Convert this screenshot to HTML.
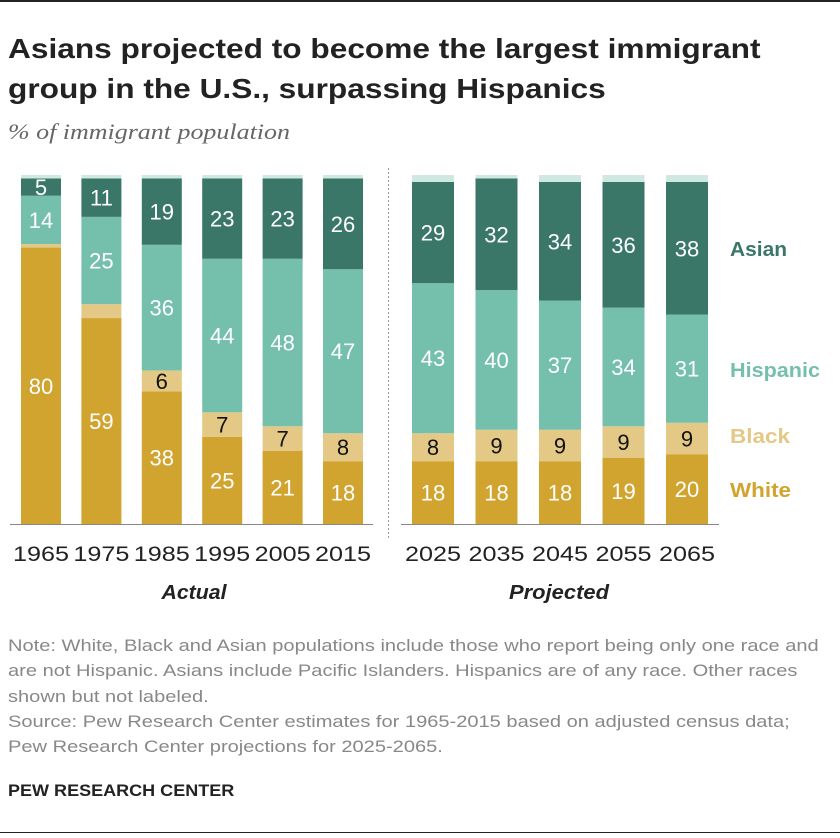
<!DOCTYPE html>
<html><head><meta charset="utf-8"><style>
body{margin:0;background:#fff;font-family:"Liberation Sans",sans-serif;}
#w{position:relative;width:840px;height:838px;overflow:hidden;}
.t{position:absolute;white-space:nowrap;transform-origin:0 0;}
</style></head><body>
<div id="w">
<div class="t" style="left:0;top:0;width:840px;height:2px;background:#222"></div>
<div class="t" style="left:8px;top:29px;font-size:28px;font-weight:bold;line-height:40px;color:#222;transform:scaleX(1.13)">Asians projected to become the largest immigrant<br>group in the U.S., surpassing Hispanics</div>
<div class="t" style="left:8px;top:119px;font-family:'Liberation Serif',serif;font-style:italic;font-size:22px;color:#666;transform:scaleX(1.18)">% of immigrant population</div>
<svg id="c" width="840" height="620" style="position:absolute;left:0;top:0"></svg>
<div class="t" style="left:8px;top:633px;font-size:17px;line-height:25.3px;color:#888;transform:scaleX(1.18)">Note: White, Black and Asian populations include those who report being only one race and<br>are not Hispanic. Asians include Pacific Islanders. Hispanics are of any race. Other races<br>shown but not labeled.<br>Source: Pew Research Center estimates for 1965-2015 based on adjusted census data;<br>Pew Research Center projections for 2025-2065.</div>
<div class="t" style="left:8px;top:781px;font-size:17px;font-weight:bold;color:#222;transform:scaleX(1.06)">PEW RESEARCH CENTER</div>
<div class="t" style="left:0;top:832px;width:840px;height:1px;background:#222"></div>
</div>
<script>
const years=["1965","1975","1985","1995","2005","2015","2025","2035","2045","2055","2065"];
const white=[80,59,38,25,21,18,18,18,18,19,20];
const black=[1,4,6,7,7,8,8,9,9,9,9];
const hispanic=[14,25,36,44,48,47,43,40,37,34,31];
const asian=[5,11,19,23,23,26,29,32,34,36,38];
const other=[1,1,1,1,1,1,2,1,2,2,2];
const showBlack=[false,false,true,true,true,true,true,true,true,true,true];
const NS="http://www.w3.org/2000/svg";
const svg=document.getElementById('c');
const base=524,top0=175,H=base-top0;
function xPos(i){return i<6?21+i*60.4:412+(i-6)*63.5;}
function bw(i){return i<6?40:42;}
function y(v){return H*v/100;}
function mk(tag,a){const e=document.createElementNS(NS,tag);for(const k in a)e.setAttribute(k,a[k]);svg.appendChild(e);return e;}
const series=[["white",white,"#d1a42f","#fff"],["black",black,"#e3c985","#111"],["hispanic",hispanic,"#75bfad","#fff"],["asian",asian,"#3a7768","#fff"],["other",other,"#cfe8e0",null]];
years.forEach((yr,i)=>{
 const tot=white[i]+black[i]+hispanic[i]+asian[i]+other[i];
 let cum=0;
 series.forEach(([nm,arr,col,tc])=>{
  const v=arr[i]*100/tot;
  const h=y(v),yy=base-y(cum)-h;
  const r=mk('rect',{x:xPos(i),y:yy,width:bw(i),height:h,fill:col});
  
  
  if(tc&&(nm!=="black"||showBlack[i])){
   const t=mk('text',{x:xPos(i)+bw(i)/2,y:yy+h/2+8,'text-anchor':'middle','font-size':22,fill:tc,'font-family':'Liberation Sans, sans-serif'});
   t.textContent=arr[i];
   
   
  }
  cum+=v;
 });
 const l=mk('text',{x:xPos(i)+bw(i)/2,y:561,'text-anchor':'middle','font-size':21,fill:'#222','font-family':'Liberation Sans, sans-serif',textLength:56,lengthAdjust:'spacingAndGlyphs'});
 l.textContent=yr;
 
 
});
let a=mk('line',{x1:10,x2:373,y1:524.5,y2:524.5,stroke:'#888','stroke-width':1});

a=mk('line',{x1:401,x2:719,y1:524.5,y2:524.5,stroke:'#888','stroke-width':1});

a=mk('line',{x1:388.5,x2:388.5,y1:168,y2:538,stroke:'#999','stroke-width':1,'stroke-dasharray':'2,2'});

[["Actual",194,65],["Projected",559,100]].forEach(([s,x,w])=>{const t=mk('text',{x:x,y:599,'text-anchor':'middle','font-size':20,'font-weight':'bold','font-style':'italic',fill:'#222','font-family':'Liberation Sans, sans-serif',textLength:w,lengthAdjust:'spacingAndGlyphs'});t.textContent=s;
});
[["Asian",256,"#3a7768",57],["Hispanic",377,"#75bfad",90],["Black",443,"#e3c985",60],["White",497,"#d1a42f",61]].forEach(([s,yy,c,w])=>{const t=mk('text',{x:730,y:yy,'font-size':20,'font-weight':'bold',fill:c,'font-family':'Liberation Sans, sans-serif',textLength:w,lengthAdjust:'spacingAndGlyphs'});t.textContent=s;
});
</script>
</body></html>
